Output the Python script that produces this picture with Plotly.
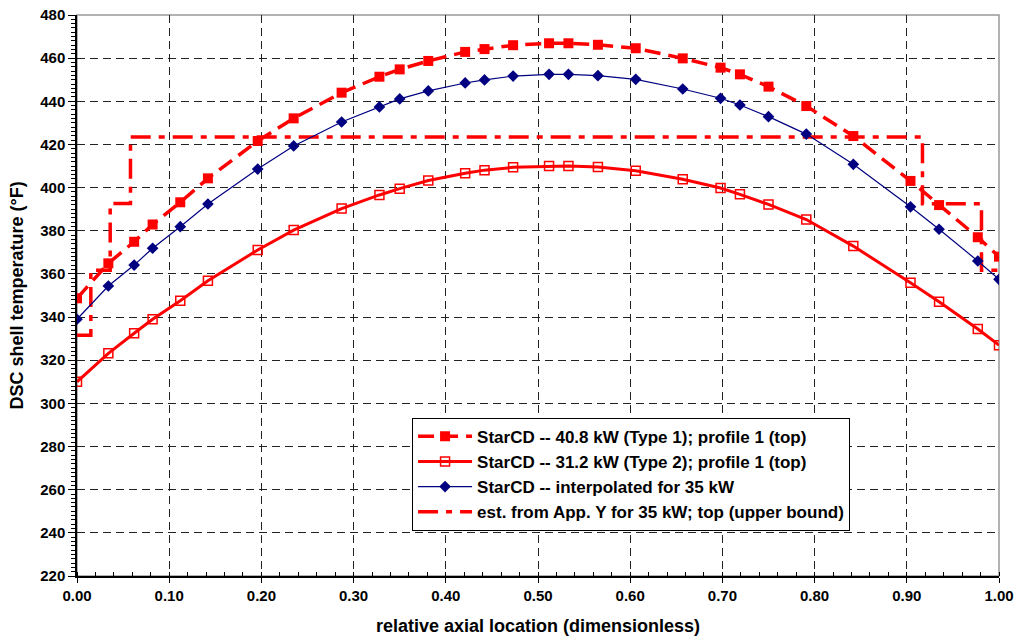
import plotly.graph_objects as go

# ---- data ----
x_loc = [0.000, 0.034, 0.062, 0.082, 0.112, 0.142, 0.196, 0.235, 0.287, 0.328,
         0.350, 0.381, 0.421, 0.442, 0.473, 0.512, 0.533, 0.565, 0.606, 0.657,
         0.698, 0.719, 0.750, 0.791, 0.842, 0.904, 0.935, 0.977, 1.000]

t_408 = [348.7, 364.9, 374.9, 382.9, 393.2, 404.3, 421.6, 432.1, 444.0, 451.4,
         454.8, 458.7, 462.9, 464.2, 466.0, 466.9, 466.9, 466.2, 464.6, 459.9,
         455.6, 452.5, 446.8, 437.8, 423.9, 403.1, 391.9, 377.0, 368.0]

t_312 = [310.0, 323.2, 332.5, 339.0, 347.6, 356.8, 371.1, 380.3, 390.3, 396.6,
         399.5, 403.3, 406.7, 408.1, 409.4, 410.0, 410.0, 409.5, 407.8, 403.9,
         399.8, 396.9, 392.2, 385.2, 372.9, 355.9, 347.1, 334.5, 327.0]

t_35 = [339.0, 354.4, 364.1, 371.9, 381.9, 392.4, 408.6, 419.3, 430.4, 437.4,
        441.1, 444.8, 448.5, 449.9, 451.7, 452.5, 452.5, 451.9, 450.2, 445.7,
        441.4, 438.3, 432.9, 424.8, 410.8, 391.1, 380.7, 366.0, 357.5]

est_x = [0.000, 0.015, 0.015, 0.036, 0.036, 0.058, 0.058, 0.917, 0.917, 0.981, 0.981, 1.000]
est_y = [331.6, 331.6, 361.7, 361.7, 392.6, 392.6, 423.5, 423.5, 392.5, 392.5, 361.7, 361.7]

names = [
    "StarCD -- 40.8 kW (Type 1); profile 1 (top)",
    "StarCD -- 31.2 kW (Type 2); profile 1 (top)",
    "StarCD -- interpolated for 35 kW",
    "est. from App. Y for 35 kW; top (upper bound)",
]

x_ticks = [0.0, 0.1, 0.2, 0.3, 0.4, 0.5, 0.6, 0.7, 0.8, 0.9, 1.0]
y_ticks = list(range(220, 481, 20))

FONT = "Liberation Sans, Arial, sans-serif"
RED = "#ff0000"
NAVY = "#000080"

fig = go.Figure()

fig.add_trace(go.Scatter(
    x=est_x, y=est_y, mode="lines", name="<b>" + names[3] + "</b>",
    line=dict(color=RED, width=3.5, dash="20px,8px,6px,8px"),
    legendrank=4, legendgroup="d",
))
fig.add_trace(go.Scatter(
    x=x_loc, y=t_312, mode="lines+markers", name="<b>" + names[1] + "</b>",
    line=dict(color=RED, width=3),
    marker=dict(symbol="square-open", size=9, color=RED, line=dict(width=1.5, color=RED)),
    legendrank=2, legendgroup="b",
))
fig.add_trace(go.Scatter(
    x=x_loc, y=t_35, mode="lines+markers", name="<b>" + names[2] + "</b>",
    line=dict(color=NAVY, width=1.2),
    marker=dict(symbol="diamond", size=9, color=NAVY),
    legendrank=3, legendgroup="c",
))
fig.add_trace(go.Scatter(
    x=x_loc, y=t_408, mode="lines+markers", name="<b>" + names[0] + "</b>",
    line=dict(color=RED, width=3.5, dash="16px,8px"),
    marker=dict(symbol="square", size=10, color=RED),
    legendrank=1, legendgroup="a",
))

fig.update_layout(
    width=1016, height=638,
    margin=dict(l=77, r=17, t=15, b=62),
    paper_bgcolor="white", plot_bgcolor="white",
    font=dict(family=FONT, size=14, color="black"),
    showlegend=True,
    legend=dict(
        x=0.3634, y=0.282, xanchor="left", yanchor="top",
        bgcolor="white", bordercolor="black", borderwidth=1,
        font=dict(family=FONT, size=17, color="black"),
        itemwidth=54, tracegroupgap=0,
    ),
    shapes=[dict(type="rect", xref="paper", yref="paper", x0=0, y0=0, x1=1, y1=1,
                 line=dict(color="#999999", width=1.5), layer="below")],
)

fig.update_xaxes(
    range=[0, 1], tickvals=x_ticks, tickformat=".2f", automargin=False,
    tickfont=dict(family=FONT, size=15, weight="bold"),
    title=dict(text="<b>relative axial location (dimensionless)</b>",
               font=dict(family=FONT, size=18), standoff=17),
    showgrid=True, gridcolor="#222222", gridwidth=1, griddash="8px,5px",
    showline=True, linecolor="black", linewidth=1.5,
    ticks="outside", ticklen=5, tickcolor="black",
    minor=dict(dtick=0.02, ticks="inside", ticklen=4, tickcolor="black", showgrid=False),
    zeroline=False,
)
fig.update_yaxes(
    range=[220, 480], tickvals=y_ticks, automargin=False,
    tickfont=dict(family=FONT, size=15, weight="bold"),
    title=dict(text="<b>DSC shell temperature (°F)</b>",
               font=dict(family=FONT, size=18), standoff=12),
    showgrid=True, gridcolor="#222222", gridwidth=1, griddash="8px,5px",
    showline=True, linecolor="black", linewidth=1.5,
    ticks="outside", ticklen=7, tickcolor="black",
    minor=dict(dtick=2, ticks="outside", ticklen=4, tickcolor="black", showgrid=False),
    zeroline=False,
)

fig.write_html("out.html")
